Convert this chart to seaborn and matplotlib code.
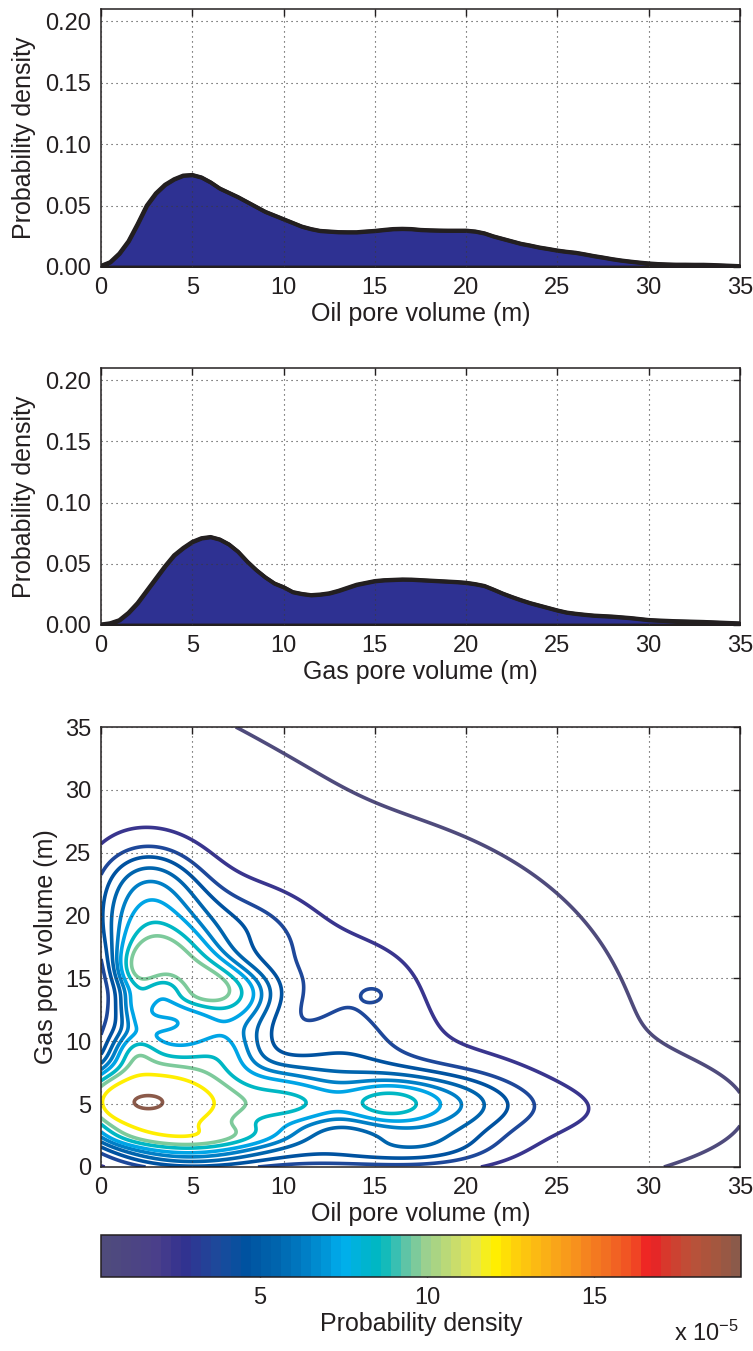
import numpy as np
import pandas as pd
import matplotlib
matplotlib.use("Agg")
import matplotlib.pyplot as plt
from matplotlib.colors import LinearSegmentedColormap, ListedColormap, Normalize
from matplotlib.cm import ScalarMappable
import seaborn as sns

# ---------------------------------------------------------------- data
# marginal probability densities, every half metre of pore volume
volume_m = np.arange(0, 35.5, 0.5)
oil_density = [0.001, 0.004, 0.011, 0.021, 0.035, 0.050, 0.060, 0.067, 0.0715,
               0.0745, 0.075, 0.073, 0.069, 0.064, 0.0605, 0.057, 0.053, 0.049,
               0.045, 0.042, 0.039, 0.036, 0.033, 0.031, 0.0295, 0.029, 0.0285,
               0.0284, 0.0284, 0.029, 0.0295, 0.0303, 0.031, 0.0312, 0.031,
               0.0303, 0.030, 0.0298, 0.0297, 0.0297, 0.0297, 0.029, 0.0275,
               0.025, 0.023, 0.021, 0.019, 0.0176, 0.016, 0.0148, 0.0135,
               0.0125, 0.0117, 0.0104, 0.009, 0.0078, 0.0065, 0.0054, 0.0045,
               0.0037, 0.003, 0.0025, 0.0022, 0.002, 0.002, 0.0019, 0.0019,
               0.0017, 0.0014, 0.0011, 0.0008]
gas_density = [0.0005, 0.0015, 0.004, 0.010, 0.018, 0.028, 0.038, 0.048, 0.057,
               0.063, 0.068, 0.071, 0.072, 0.070, 0.066, 0.060, 0.052, 0.045,
               0.039, 0.034, 0.031, 0.027, 0.0255, 0.0245, 0.025, 0.026, 0.028,
               0.0305, 0.033, 0.0345, 0.036, 0.0367, 0.037, 0.0373, 0.0372,
               0.0368, 0.0364, 0.036, 0.0356, 0.0352, 0.0346, 0.0335, 0.032,
               0.029, 0.0258, 0.023, 0.0204, 0.018, 0.016, 0.014, 0.012, 0.0103,
               0.0093, 0.0085, 0.0078, 0.0074, 0.007, 0.0064, 0.0058, 0.005,
               0.0042, 0.0038, 0.0035, 0.0032, 0.003, 0.0028, 0.0026, 0.0023,
               0.002, 0.0017, 0.0014]

# joint density (x 1e-5) as a sum of Gaussian kernels:
# centre (oil, gas), spread along / across the kernel axis, axis angle, height
kern_oil = [2.3, 2.5, 3.5, 1.5, 5.0, 8.5, 7.0, 10.5, 5.0, 12.0, 18.0, 15.6,
            16.5, 20.5, 26.0, 3.3, 5.0, 2.5, 2.5, 7.5, 2.5, 3.6, 6.5, 13.0,
            8.0, 14.0, 15.0, 18.0, 22.0, 6.0, 10.0, 1.8, 2.0, 2.0, 5.5, 0.0,
            4.5, 9.5, 6.5, 0.0, 4.0]
kern_gas = [5.15, 5.2, 5.0, 2.5, 2.4, 2.6, 4.5, 4.8, 0.8, 1.0, 1.2, 5.0,
            5.0, 4.5, 4.5, 16.5, 15.5, 19.5, 23.5, 14.0, 9.8, 11.5, 11.0, 9.0,
            19.0, 15.0, 13.7, 11.0, 8.0, 28.0, 10.0, 9.0, 12.5, 15.5, 14.5, 31.0,
            8.5, 7.0, 9.0, 12.0, 13.2]
kern_sd_a = [1.2, 2.5, 4.0, 1.5, 2.0, 2.2, 2.2, 2.0, 3.5, 3.5, 3.5, 1.5,
             3.5, 3.5, 4.5, 1.5, 3.0, 2.5, 2.5, 1.8, 1.5, 0.9, 2.0, 3.0,
             3.0, 3.0, 0.45, 3.0, 3.0, 4.0, 10.0, 0.8, 0.8, 0.9, 1.2, 4.0,
             1.5, 2.0, 1.5, 1.0, 1.3]
kern_sd_b = [0.8, 1.8, 2.6, 0.7, 0.7, 0.8, 1.5, 1.3, 1.2, 1.2, 1.4, 1.0,
             2.0, 2.5, 2.3, 1.8, 1.6, 3.5, 2.5, 1.5, 1.5, 0.6, 2.0, 2.5,
             3.0, 3.0, 0.45, 3.0, 3.0, 4.0, 10.0, 1.2, 1.2, 1.5, 1.2, 4.0,
             1.2, 1.2, 1.5, 2.2, 0.7]
kern_angle = [0, 0, 0, 0, 0, 0, 0, 0, 0, 0, 0, 0,
              0, 0, 0, 0, -50, 0, 0, 0, 0, 0, 0, 0,
              0, 0, 0, 0, 0, 0, 0, 0, 0, 0, 0, 0,
              0, 0, 0, 0, 0]
kern_height = [3.24, 9.11, 7.17, 0.97, 2.85, 2.02, 1.61, 3.75, 2.87, 1.95, 2.58, 2.27,
               4.90, 1.32, 1.60, 1.35, 4.86, 4.75, 2.37, 2.76, 3.52, 2.58, 2.65, 2.20,
               2.90, 1.92, 0.51, 0.52, 0.71, 0.33, 1.47, 2.19, 3.71, 4.30, 1.36, 1.00,
               0.82, 1.50, 2.44, 1.50, 1.60]

contour_levels = [0.24, 2.35, 3.7, 4.6, 5.5, 6.4, 7.3, 8.6, 9.8, 12.1, 19.4]
colour_range = (0.24, 19.4)
colorbar_ticks = [5, 10, 15]
axis_ticks = [0, 5, 10, 15, 20, 25, 30, 35]
density_ticks = [0.00, 0.05, 0.10, 0.15, 0.20]

# colour scale: purple - blue - cyan - green - yellow - orange - red - brown
scale_pos = [0.00, 0.08, 0.12, 0.18, 0.22, 0.27, 0.31, 0.35, 0.375, 0.41, 0.435,
             0.46, 0.48, 0.505, 0.55, 0.585, 0.615, 0.65, 0.69, 0.74, 0.80,
             0.84, 0.865, 0.89, 0.93, 0.97, 1.00]
scale_hex = ["#4f4b7c", "#4a3f8a", "#33318f", "#1b4b9c", "#0052a0", "#0064ad",
             "#0079c1", "#0097d9", "#00aeef", "#00b4d0", "#00b9bf", "#3cbfb1",
             "#6cc6a2", "#96cf92", "#c3db72", "#e6e74f", "#fff200", "#fed10b",
             "#fbb515", "#f7941d", "#f26c22", "#f04a24", "#ed1c24", "#d8382c",
             "#bb5139", "#a3573f", "#8b5a4a"]

# ---------------------------------------------------------------- style
sns.set_theme(style="white")
ink = "#231f20"
plt.rcParams.update({
    "font.family": ["Liberation Sans", "DejaVu Sans"],
    "mathtext.fontset": "custom",
    "mathtext.rm": "Liberation Sans",
    "mathtext.it": "Liberation Sans",
    "text.color": ink,
    "axes.labelcolor": ink,
    "xtick.color": ink,
    "ytick.color": ink,
    "axes.edgecolor": ink,
    "axes.linewidth": 1.1,
})
TICK_FS = 17
LABEL_FS = 18

smooth = LinearSegmentedColormap.from_list("pore", list(zip(scale_pos, scale_hex)))
cmap = ListedColormap(smooth(np.linspace(0, 1, 64)))
norm = Normalize(colour_range[0] * 1e-5, colour_range[1] * 1e-5)

fig = plt.figure(figsize=(7.53, 13.51), dpi=100)
ax_oil = fig.add_axes([0.1341, 0.80237, 0.8486, 0.19097])
ax_gas = fig.add_axes([0.1341, 0.53738, 0.8486, 0.19023])
ax_joint = fig.add_axes([0.1341, 0.13620, 0.8486, 0.32568])
ax_cbar = fig.add_axes([0.1341, 0.05477, 0.8499, 0.03109])


def frame(ax):
    ax.set_xlim(0, 35)
    ax.set_xticks(axis_ticks)
    ax.tick_params(direction="in", length=5, width=1.0, top=True, right=True,
                   labelsize=TICK_FS, pad=7)
    ax.grid(True, color="#3a3a3a", linestyle=(0, (1, 3.5)), linewidth=0.8)
    ax.set_axisbelow(False)
    for s in ax.spines.values():
        s.set_visible(True)
        s.set_color(ink)
        s.set_linewidth(1.1)


marg = pd.DataFrame({"volume": volume_m, "oil": oil_density, "gas": gas_density})

for ax, col, xlab in [(ax_oil, "oil", "Oil pore volume (m)"),
                      (ax_gas, "gas", "Gas pore volume (m)")]:
    frame(ax)
    ax.fill_between(marg["volume"], marg[col], 0, facecolor="#2e3192",
                    edgecolor=ink, linewidth=2.8, zorder=2)
    sns.lineplot(data=marg, x="volume", y=col, ax=ax, color=ink,
                 linewidth=2.8, zorder=3)
    ax.set_ylim(0, 0.21)
    ax.set_yticks(density_ticks)
    ax.set_yticklabels([f"{t:.2f}" for t in density_ticks])
    ax.set_xlabel(xlab, fontsize=LABEL_FS)
    ax.set_ylabel("Probability density", fontsize=LABEL_FS)
    ax.xaxis.set_label_coords(0.5, -0.135)
    ax.yaxis.set_label_coords(-0.102, 0.5)

# joint density on a fine grid
g = np.linspace(0, 35, 351)
X, Y = np.meshgrid(g, g)
Z = np.zeros_like(X)
for cx, cy, sa, sb, ang, h in zip(kern_oil, kern_gas, kern_sd_a, kern_sd_b,
                                  kern_angle, kern_height):
    t = np.deg2rad(ang)
    dx, dy = X - cx, Y - cy
    u = dx * np.cos(t) + dy * np.sin(t)
    v = -dx * np.sin(t) + dy * np.cos(t)
    Z += h * np.exp(-0.5 * ((u / sa) ** 2 + (v / sb) ** 2))
Z *= 1e-5

frame(ax_joint)
ax_joint.set_ylim(0, 35)
ax_joint.set_yticks(axis_ticks)
ax_joint.contour(X, Y, Z, levels=np.array(contour_levels) * 1e-5, cmap=cmap,
                 norm=norm, linewidths=2.6, zorder=2)
ax_joint.set_xlabel("Oil pore volume (m)", fontsize=LABEL_FS)
ax_joint.set_ylabel("Gas pore volume (m)", fontsize=LABEL_FS)
ax_joint.xaxis.set_label_coords(0.5, -0.08)
ax_joint.yaxis.set_label_coords(-0.067, 0.5)

# colour bar
sm = ScalarMappable(norm=norm, cmap=cmap)
cb = fig.colorbar(sm, cax=ax_cbar, orientation="horizontal")
cb.set_ticks([t * 1e-5 for t in colorbar_ticks])
cb.set_ticklabels([str(t) for t in colorbar_ticks])
ax_cbar.tick_params(direction="in", length=5, width=1.0, top=True, bottom=True,
                    labelsize=TICK_FS, pad=7, color=ink)
cb.outline.set_edgecolor(ink)
cb.outline.set_linewidth(1.1)
cb.set_label("Probability density", fontsize=LABEL_FS, labelpad=2)
fig.text(0.981, 0.004, r"x 10$^{-5}$", ha="right", va="bottom", fontsize=TICK_FS)

fig.savefig("out.png", dpi=100)
